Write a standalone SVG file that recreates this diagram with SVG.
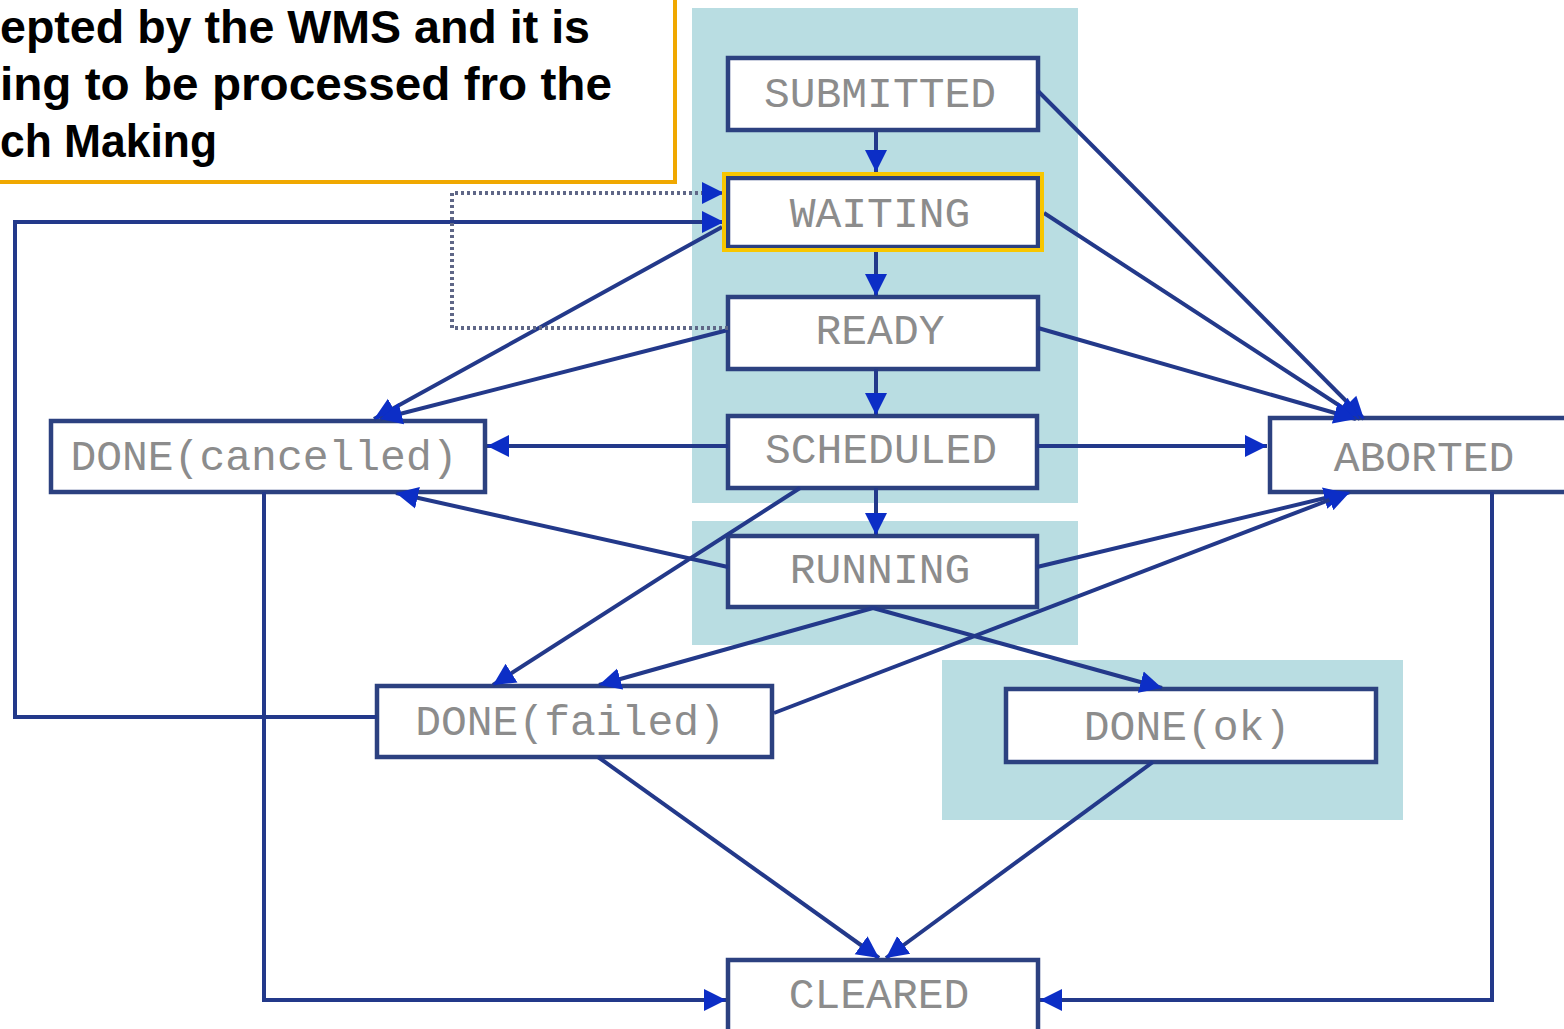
<svg xmlns="http://www.w3.org/2000/svg" width="1564" height="1029" viewBox="0 0 1564 1029">
  <style>
    .panel { fill: #b9dde2; }
    .box { fill: #ffffff; stroke: #2c4180; stroke-width: 4.5; }
    .lbl { font-family: "Liberation Mono", "DejaVu Sans Mono", monospace; font-size: 43px; fill: #8c8c8c; text-anchor: middle; }
    .edge { fill: none; stroke: #23398a; stroke-width: 4; }
    .dotted { fill: none; stroke: #5f6787; stroke-width: 4; stroke-dasharray: 3 3; }
    .note { font-family: "Liberation Sans", Arial, sans-serif; font-weight: bold; font-size: 46px; fill: #000000; }
  </style>
  <defs>
    <marker id="head" viewBox="0 0 10 10" refX="10" refY="5" markerWidth="22" markerHeight="24" markerUnits="userSpaceOnUse" orient="auto">
      <path d="M0,0 L10,5 L0,10 z" fill="#0c2ec6"/>
    </marker>
  </defs>

  <rect width="1564" height="1029" fill="#ffffff"/>

  <!-- shaded groups of states -->
  <g id="panels">
    <rect class="panel" x="692" y="8" width="386" height="495"/>
    <rect class="panel" x="692" y="521" width="386" height="124"/>
    <rect class="panel" x="942" y="660" width="461" height="160"/>
  </g>

  <!-- state boxes -->
  <g id="submitted">
    <rect class="box" x="728" y="58" width="310" height="72"/>
    <text class="lbl" x="880" y="107">SUBMITTED</text>
  </g>
  <g id="waiting">
    <rect class="box" x="728" y="178" width="310" height="69"/>
    <text class="lbl" x="880" y="227">WAITING</text>
  </g>
  <g id="ready">
    <rect class="box" x="728" y="297" width="310" height="72"/>
    <text class="lbl" x="880" y="344">READY</text>
  </g>
  <g id="scheduled">
    <rect class="box" x="728" y="416" width="309" height="72"/>
    <text class="lbl" x="881" y="463">SCHEDULED</text>
  </g>
  <g id="running">
    <rect class="box" x="728" y="536" width="309" height="71"/>
    <text class="lbl" x="880" y="583">RUNNING</text>
  </g>
  <g id="done-cancelled">
    <rect class="box" x="51" y="421" width="434" height="71"/>
    <text class="lbl" x="264" y="470">DONE(cancelled)</text>
  </g>
  <g id="aborted">
    <rect class="box" x="1270" y="418" width="310" height="74"/>
    <text class="lbl" x="1424" y="471">ABORTED</text>
  </g>
  <g id="done-failed">
    <rect class="box" x="377" y="686" width="395" height="71"/>
    <text class="lbl" x="570" y="735">DONE(failed)</text>
  </g>
  <g id="done-ok">
    <rect class="box" x="1006" y="689" width="370" height="73"/>
    <text class="lbl" x="1187" y="740">DONE(ok)</text>
  </g>
  <g id="cleared">
    <rect class="box" x="728" y="960" width="310" height="80"/>
    <text class="lbl" x="879" y="1008">CLEARED</text>
  </g>

  <!-- transitions -->
  <g id="connectors">
    <path class="edge" d="M876 130 L876 172" marker-end="url(#head)"/>
    <path class="edge" d="M876 251 L876 296" marker-end="url(#head)"/>
    <path class="edge" d="M876 369 L876 415" marker-end="url(#head)"/>
    <path class="edge" d="M876 488 L876 535" marker-end="url(#head)"/>

    <path class="edge" d="M1038 91 L1364 419" marker-end="url(#head)"/>
    <path class="edge" d="M1044 213 L1360 419" marker-end="url(#head)"/>
    <path class="edge" d="M1038 328 L1356 419" marker-end="url(#head)"/>
    <path class="edge" d="M1037 446 L1267 446" marker-end="url(#head)"/>
    <path class="edge" d="M1037 567 L1346 493" marker-end="url(#head)"/>
    <path class="edge" d="M774 713 L1350 492" marker-end="url(#head)"/>

    <path class="edge" d="M728 446 L487 446" marker-end="url(#head)"/>
    <path class="edge" d="M722 227 L374 419" marker-end="url(#head)"/>
    <path class="edge" d="M728 330 L380 419" marker-end="url(#head)"/>
    <path class="edge" d="M728 567 L396 493" marker-end="url(#head)"/>

    <path class="edge" d="M800 488 L493 685" marker-end="url(#head)"/>
    <path class="edge" d="M873 608 L599 685" marker-end="url(#head)"/>
    <path class="edge" d="M873 608 L1162 688" marker-end="url(#head)"/>

    <path class="edge" d="M598 757 L879 958" marker-end="url(#head)"/>
    <path class="edge" d="M1153 762 L886 958" marker-end="url(#head)"/>

    <path class="edge" d="M264 492 L264 1000 L726 1000" marker-end="url(#head)"/>
    <path class="edge" d="M1492 492 L1492 1000 L1040 1000" marker-end="url(#head)"/>
    <path class="edge" d="M377 717 L15 717 L15 222 L724 222" marker-end="url(#head)"/>
    <path class="dotted" d="M728 328 L452 328 L452 193 L724 193" marker-end="url(#head)"/>
  </g>

  <!-- highlight on the current state -->
  <rect id="waiting-highlight" x="724" y="174" width="318" height="76" fill="none" stroke="#f8c600" stroke-width="4"/>

  <!-- callout -->
  <g id="callout">
    <rect x="-10" y="-10" width="685" height="192" fill="#ffffff" stroke="#f0a800" stroke-width="4"/>
    <text class="note" x="0" y="43" textLength="590" lengthAdjust="spacingAndGlyphs">epted by the WMS and it is</text>
    <text class="note" x="0" y="100" textLength="612" lengthAdjust="spacingAndGlyphs">ing to be processed fro the</text>
    <text class="note" x="0" y="157" textLength="217" lengthAdjust="spacingAndGlyphs">ch Making</text>
  </g>
</svg>
